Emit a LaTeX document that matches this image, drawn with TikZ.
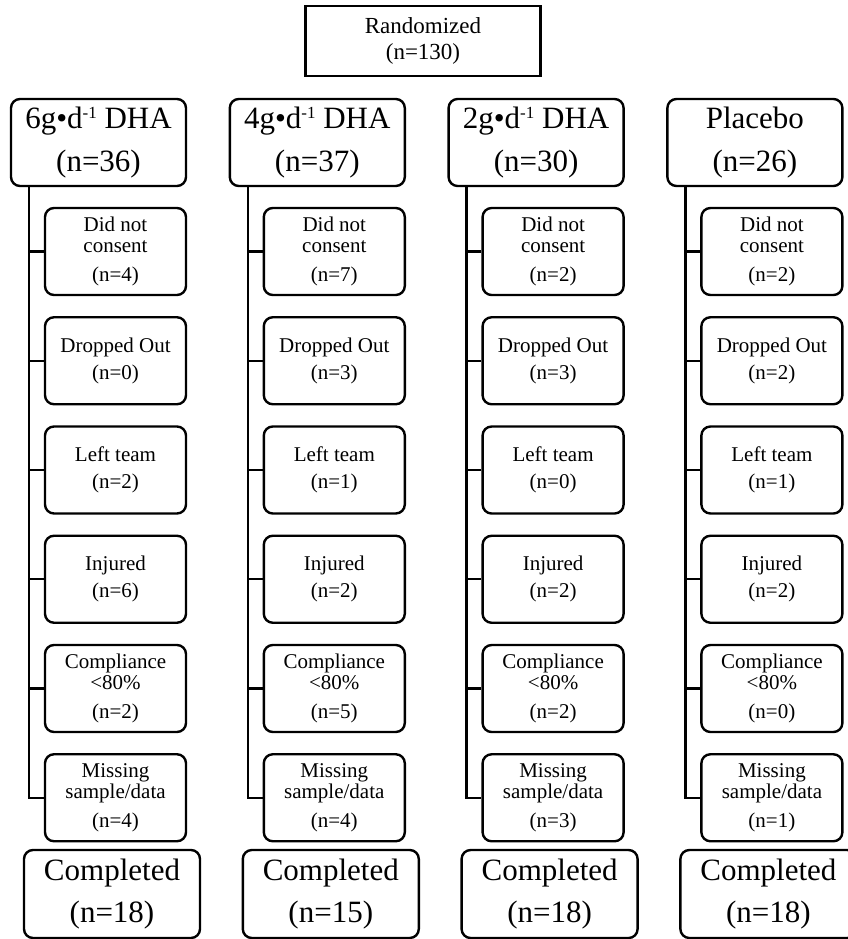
\documentclass[tikz,border=0pt]{standalone}
\usepackage{fontspec}
\setmainfont{Liberation Serif}
\newcommand{\supsmall}[1]{\raisebox{0.33em}{\fontsize{17}{17}\selectfont #1}}
\begin{document}
\begin{tikzpicture}[x=1pt,y=-1pt,
  box/.style={draw,line width=2.4pt,rounded corners=9pt,align=center,inner sep=0pt},
  head/.style={box,minimum width=175pt,minimum height=87pt,font=\fontsize{31}{31}\selectfont},
  sub/.style={box,minimum width=141pt,minimum height=87pt,font=\fontsize{21}{21}\selectfont},
  fin/.style={box,minimum width=176pt,minimum height=88pt,font=\fontsize{31}{31}\selectfont},
  link/.style={line width=2.4pt}]
\useasboundingbox (0,0) rectangle (847,939);
\node[draw,line width=2.4pt,minimum width=235pt,minimum height=70pt,inner sep=0pt,align=center,font=\fontsize{23}{26}\selectfont] (rand) at (423,41) {Randomized\\(n=130)};
\foreach \i/\ttl/\n/\a/\b/\c/\d/\e/\f/\comp in {
  0/{6g•d\supsmall{-1} DHA}/36/4/0/2/6/2/4/18,
  1/{4g•d\supsmall{-1} DHA}/37/7/3/1/2/5/4/15,
  2/{2g•d\supsmall{-1} DHA}/30/2/3/0/2/2/3/18,
  3/{Placebo}/26/2/2/1/2/0/1/18}
{
  \pgfmathsetmacro\X{11+218.8*\i}
  \node[head] (h\i) at (\X+87.5,142.5) {\ttl\\[12pt](n=\n)};
  \coordinate (t\i) at (\X+18,186);
  \node[sub] (s\i-1) at (\X+104.5,251.5) {Did not\\consent\\[8pt](n=\a)};
  \node[sub] (s\i-2) at (\X+104.5,360.75) {Dropped Out\\[6pt](n=\b)};
  \node[sub] (s\i-3) at (\X+104.5,470) {Left team\\[6pt](n=\c)};
  \node[sub] (s\i-4) at (\X+104.5,579.25) {Injured\\[6pt](n=\d)};
  \node[sub] (s\i-5) at (\X+104.5,688.5) {Compliance\\<80\%\\[8pt](n=\e)};
  \node[sub] (s\i-6) at (\X+104.5,797.75) {Missing\\sample/data\\[8pt](n=\f)};
  \node[fin] (c\i) at (\X+101,894) {Completed\\[11pt](n=\comp)};
  \draw[link] (t\i) |- (s\i-6.west);
  \foreach \k in {1,...,5} {
    \draw[link] (s\i-\k.west) -- (s\i-\k.west -| t\i);
  }
}
\end{tikzpicture}
\end{document}
